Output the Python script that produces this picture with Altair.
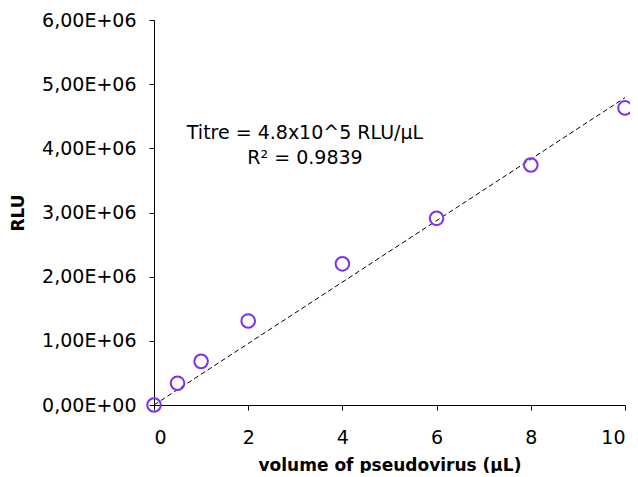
import altair as alt
import pandas as pd
import numpy as np

volume = [0, 0.5, 1, 2, 4, 6, 8, 10]
rlu = [0, 0.34e6, 0.68e6, 1.31e6, 2.20e6, 2.91e6, 3.74e6, 4.63e6]
annotation = ["Titre = 4.8x10^5 RLU/µL", "R² = 0.9839"]
x_ticks = [0, 2, 4, 6, 8, 10]
y_ticks = [0, 1e6, 2e6, 3e6, 4e6, 5e6, 6e6]

x_arr = np.array(volume)
y_arr = np.array(rlu)
slope = float((x_arr * y_arr).sum() / (x_arr ** 2).sum())
trend = pd.DataFrame({"x": [0.0, 10.0], "y": [0.0, slope * 10.0]})
df = pd.DataFrame({"x": volume, "y": rlu})

FONT = "DejaVu Sans"

xscale = alt.Scale(domain=[0, 10], nice=False, zero=True)
yscale = alt.Scale(domain=[0, 6e6], nice=False)

xaxis = alt.Axis(title="volume of pseudovirus (µL)", values=x_ticks, labelPadding=18, titlePadding=10)
yaxis = alt.Axis(title="RLU", values=y_ticks,
                 labelExpr="datum.value == 0 ? '0,00E+00' : replace(format(datum.value/1e6, '.2f'), '.', ',') + 'E+06'",
                 labelPadding=13, titlePadding=14)

line = alt.Chart(trend).mark_line(color="black", strokeDash=[5, 3], strokeWidth=1).encode(
    x=alt.X("x:Q", scale=xscale, axis=xaxis),
    y=alt.Y("y:Q", scale=yscale, axis=yaxis),
)

points = alt.Chart(df).mark_point(shape="circle", filled=False, color="#7B2FF2",
                                  strokeWidth=2, size=185, opacity=1).encode(
    x=alt.X("x:Q", scale=xscale, axis=xaxis),
    y=alt.Y("y:Q", scale=yscale, axis=yaxis),
)

ann_df = pd.DataFrame({"t": annotation, "py": [113, 138]})
text = alt.Chart(ann_df).mark_text(fontSize=19, font=FONT, color="black", align="center",
                                   baseline="middle").encode(
    text="t:N",
    x=alt.value(151),
    y=alt.Y("py:Q", scale=None),
)

chart = alt.layer(line, points, text).properties(
    width=471, height=385,
    autosize=alt.AutoSizeParams(type="none"),
    padding={"left": 146, "top": 12, "right": 5, "bottom": 68},
).configure_view(stroke=None).configure_axis(
    grid=False, domainColor="black", tickColor="black", tickSize=5,
    labelFontSize=19, labelColor="black", labelFont=FONT,
    titleFontSize=17, titleFontWeight="bold", titleColor="black", titleFont=FONT,
)

chart.save("out.html", embed_options={"renderer": "svg", "actions": False})
